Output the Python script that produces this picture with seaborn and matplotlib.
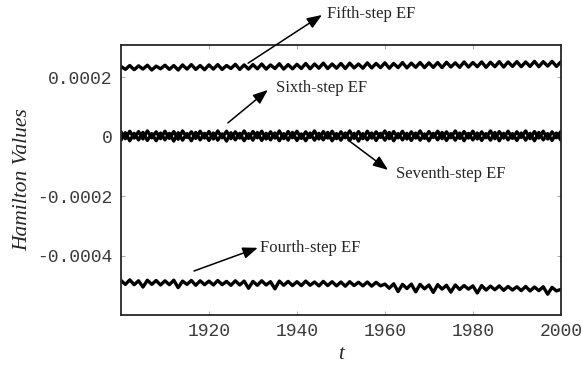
import numpy as np
import pandas as pd
import matplotlib
matplotlib.use("Agg")
import matplotlib.pyplot as plt
import seaborn as sns

# yearly values, in units of 1e-6
years = list(range(1900, 2001))

fifth = [236, 226, 239, 225, 238, 227, 240, 224, 237, 228,
         240, 226, 239, 224, 241, 227, 242, 226, 239, 225,
         241, 227, 242, 226, 239, 229, 243, 226, 241, 227,
         242, 228, 244, 227, 241, 229, 245, 227, 242, 228,
         243, 229, 246, 228, 244, 230, 247, 229, 244, 230,
         246, 229, 247, 231, 244, 230, 248, 231, 246, 232,
         248, 230, 246, 232, 249, 231, 247, 233, 249, 232,
         248, 233, 249, 232, 250, 234, 248, 233, 251, 234,
         249, 235, 251, 233, 250, 235, 252, 234, 251, 236,
         252, 235, 251, 236, 253, 235, 252, 237, 253, 236,
         251]

sixth = [16, -7, 18, -5, 17, -8, 19, -4, 16, -7,
         18, -6, 17, -9, 19, -3, 16, -6, 18, -5,
         17, -8, 19, -4, 18, -7, 16, -5, 19, -6,
         17, -4, 18, -8, 16, -5, 19, -7, 17, -4,
         18, -6, 16, -3, 19, -8, 17, -5, 18, -7,
         16, -4, 19, -6, 17, -7, 18, -5, 16, -3,
         19, -7, 17, -4, 18, -8, 16, -5, 19, -6,
         17, -3, 18, -7, 16, -4, 19, -6, 17, -5,
         18, -8, 16, -4, 19, -7, 17, -5, 18, -6,
         16, -3, 19, -7, 17, -5, 18, -8, 16, -4,
         17]

seventh = [-12, 13, -14, 11, -11, 14, -13, 10, -14, 12,
           -11, 11, -15, 13, -12, 10, -14, 14, -11, 11,
           -13, 12, -12, 9, -15, 13, -11, 11, -14, 10,
           -12, 14, -13, 11, -11, 12, -14, 10, -12, 14,
           -13, 9, -14, 12, -12, 11, -11, 14, -14, 10,
           -12, 12, -13, 11, -15, 10, -11, 12, -13, 11,
           -12, 14, -14, 10, -11, 11, -13, 12, -12, 9,
           -14, 11, -11, 14, -13, 10, -12, 12, -14, 11,
           -11, 12, -13, 10, -12, 14, -14, 11, -11, 10,
           -13, 12, -12, 11, -14, 14, -11, 10, -13, 12,
           -12]

fourth = [-484, -497, -482, -498, -485, -506, -483, -497, -484, -499,
          -485, -498, -483, -508, -486, -497, -484, -500, -485, -498,
          -486, -499, -484, -498, -487, -500, -485, -499, -486, -510,
          -487, -500, -485, -499, -488, -512, -486, -500, -487, -501,
          -488, -501, -486, -500, -489, -502, -487, -501, -488, -502,
          -489, -503, -488, -501, -490, -502, -489, -503, -490, -502,
          -496, -510, -495, -521, -497, -511, -496, -522, -497, -512,
          -499, -524, -498, -513, -500, -523, -499, -514, -501, -513,
          -502, -526, -501, -516, -503, -515, -502, -517, -504, -516,
          -505, -518, -504, -519, -506, -518, -505, -530, -507, -519,
          -514]

series = {"Fifth-step EF": fifth, "Sixth-step EF": sixth,
          "Seventh-step EF": seventh, "Fourth-step EF": fourth}

df = pd.DataFrame({"t": years})
for name, vals in series.items():
    df[name] = np.array(vals) * 1e-6
long = df.melt(id_vars="t", var_name="series", value_name="H")

sns.set_style("ticks")
serif = ["Liberation Serif", "DejaVu Serif"]
mono = ["Liberation Mono", "DejaVu Sans Mono"]

fig = plt.figure(figsize=(5.83, 3.68), dpi=100)
ax = fig.add_axes([0.2075, 0.144, 0.7545, 0.7337])

sns.lineplot(data=long, x="t", y="H", units="series", estimator=None,
             color="black", linewidth=2.4, ax=ax, legend=False)

ax.set_xlim(1900, 2000)
ax.set_ylim(-0.0006, 0.000308)
ax.set_xticks([1920, 1940, 1960, 1980, 2000])
ax.set_yticks([0.0002, 0, -0.0002, -0.0004])
ax.set_yticklabels(["0.0002", "0", "-0.0002", "-0.0004"])
ax.tick_params(direction="in", length=3, width=0.6, color="#999999",
               top=True, right=True, labelsize=13, labelcolor="#3a3a3a", pad=6)
for lab in ax.get_xticklabels() + ax.get_yticklabels():
    lab.set_family(mono)
for s in ax.spines.values():
    s.set_linewidth(1.3)

ax.set_xlabel("t", family=serif, style="italic", fontsize=15, labelpad=3)
ax.set_ylabel("Hamilton Values", family=serif, style="italic", fontsize=15.5, labelpad=4)

arrow = dict(arrowstyle="-|>,head_length=0.9,head_width=0.35", color="black",
             lw=1.1, shrinkA=0, shrinkB=0)
notes = [
    ("Fifth-step EF", (1945.7, 0.000409), (1928.9, 0.000247), (1946.8, 0.000412)),
    ("Sixth-step EF", (1933.4, 0.000157), (1924.3, 0.000046), (1935.2, 0.000163)),
    ("Seventh-step EF", (1960.7, -0.000112), (1951.6, -0.0000113), (1962.5, -0.000126)),
    ("Fourth-step EF", (1931.1, -0.000374), (1916.6, -0.000452), (1931.6, -0.000376)),
]
for label, head, tail, txt in notes:
    ax.annotate("", xy=head, xytext=tail, arrowprops=arrow, annotation_clip=False)
    ax.text(txt[0], txt[1], label, family=serif, fontsize=12, va="center",
            ha="left", clip_on=False)

fig.savefig("out.png", dpi=100)
